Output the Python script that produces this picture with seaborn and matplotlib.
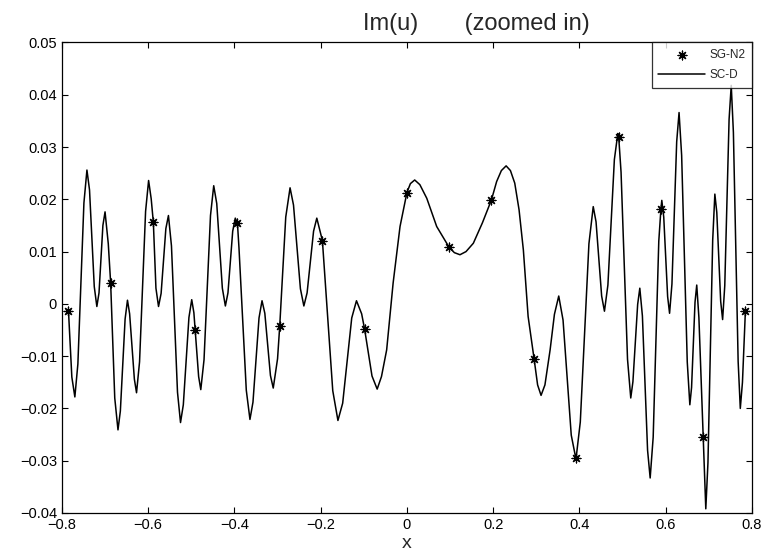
# Script name: im_u_zoomed
# Purpose: redraw the zoomed-in Im(u) plot (SG-N2 points on top of the SC-D curve)

# load packages
import pandas as pd
import seaborn as sns
import matplotlib.pyplot as plt

# SC-D curve (extrema plus points on the flanks)
curve_x = [-0.785, -0.777, -0.770, -0.763, -0.749, -0.742, -0.736, -0.725, -0.719, -0.714,
           -0.705, -0.700, -0.6925, -0.687, -0.6775, -0.670, -0.6645, -0.6535, -0.648, -0.643,
           -0.632, -0.627, -0.620, -0.606, -0.599, -0.593, -0.588, -0.582, -0.576, -0.570,
           -0.559, -0.553, -0.546, -0.532, -0.525, -0.5185, -0.5055, -0.499, -0.494, -0.491,
           -0.483, -0.478, -0.4705, -0.4555, -0.448, -0.441, -0.428, -0.421, -0.415, -0.404,
           -0.398, -0.393, -0.3895, -0.3725, -0.364, -0.357, -0.343, -0.336, -0.3295, -0.3165,
           -0.310, -0.300, -0.295, -0.281, -0.271, -0.263, -0.247, -0.239, -0.2315, -0.2165,
           -0.209, -0.196, -0.172, -0.160, -0.149, -0.128, -0.117, -0.105, -0.098, -0.081,
           -0.069, -0.059, -0.047, -0.032, -0.016, 0.000, 0.008, 0.018, 0.030, 0.046,
           0.069, 0.098, 0.110, 0.123, 0.137, 0.154, 0.175, 0.196, 0.208, 0.219,
           0.230, 0.240, 0.250, 0.260, 0.270, 0.281, 0.295, 0.303, 0.311, 0.320,
           0.332, 0.342, 0.352, 0.362, 0.381, 0.392, 0.402, 0.422, 0.432, 0.4385,
           0.4515, 0.458, 0.466, 0.481, 0.489, 0.491, 0.4965, 0.5115, 0.519, 0.524,
           0.535, 0.540, 0.546, 0.558, 0.564, 0.571, 0.584, 0.589, 0.591, 0.5955,
           0.6045, 0.609, 0.6145, 0.6255, 0.631, 0.637, 0.650, 0.656, 0.660, 0.668,
           0.672, 0.677, 0.687, 0.693, 0.698, 0.709, 0.714, 0.7185, 0.7275, 0.732,
           0.737, 0.747, 0.752, 0.757, 0.768, 0.773, 0.778, 0.785]
curve_y = [-0.0010, -0.0140, -0.0178, -0.0115, 0.0193, 0.0256, 0.0218, 0.0033, -0.0005, 0.0021,
           0.0150, 0.0176, 0.0115, 0.0040, -0.0180, -0.0241, -0.0205, -0.0029, 0.0007, -0.0019,
           -0.0144, -0.0170, -0.0111, 0.0177, 0.0236, 0.0201, 0.0156, 0.0030, -0.0005, 0.0020,
           0.0144, 0.0169, 0.0111, -0.0169, -0.0227, -0.0193, -0.0026, 0.0008, -0.0017, -0.0050,
           -0.0139, -0.0164, -0.0107, 0.0169, 0.0226, 0.0192, 0.0030, -0.0004, 0.0021, 0.0139,
           0.0164, 0.0154, 0.0108, -0.0165, -0.0221, -0.0188, -0.0027, 0.0006, -0.0018, -0.0137,
           -0.0161, -0.0105, -0.0043, 0.0166, 0.0222, 0.0189, 0.0029, -0.0004, 0.0021, 0.0139,
           0.0164, 0.0121, -0.0166, -0.0223, -0.0190, -0.0027, 0.0006, -0.0019, -0.0049, -0.0138,
           -0.0163, -0.0139, -0.0088, 0.0040, 0.0148, 0.0213, 0.0230, 0.0237, 0.0228, 0.0202,
           0.0148, 0.0108, 0.0098, 0.0094, 0.0100, 0.0116, 0.0155, 0.0199, 0.0234, 0.0255,
           0.0264, 0.0255, 0.0231, 0.0180, 0.0103, -0.0024, -0.0106, -0.0155, -0.0175, -0.0155,
           -0.0088, -0.0020, 0.0015, -0.0031, -0.0251, -0.0297, -0.0226, 0.0115, 0.0186, 0.0157,
           0.0015, -0.0014, 0.0036, 0.0276, 0.0326, 0.0320, 0.0252, -0.0106, -0.0180, -0.0149,
           -0.0001, 0.0030, -0.0023, -0.0280, -0.0333, -0.0255, 0.0120, 0.0182, 0.0198, 0.0166,
           0.0014, -0.0018, 0.0038, 0.0310, 0.0366, 0.0284, -0.0111, -0.0193, -0.0160, 0.0003,
           0.0036, -0.0026, -0.0255, -0.0392, -0.0304, 0.0122, 0.0210, 0.0175, 0.0005, -0.0030,
           0.0035, 0.0353, 0.0418, 0.0328, -0.0110, -0.0200, -0.0150, -0.0010]

# SG-N2 points
sg_x = [-0.785, -0.687, -0.589, -0.491, -0.393, -0.295, -0.196, -0.098, 0.000,
        0.098, 0.196, 0.295, 0.393, 0.491, 0.589, 0.687, 0.785]
sg_y = [-0.0013, 0.0040, 0.0156, -0.0050, 0.0154, -0.0043, 0.0121, -0.0049, 0.0213,
        0.0108, 0.0199, -0.0106, -0.0295, 0.0320, 0.0182, -0.0255, -0.0013]

# axis ticks
x_ticks = [-0.8, -0.6, -0.4, -0.2, 0, 0.2, 0.4, 0.6, 0.8]
x_labels = ["\u22120.8", "\u22120.6", "\u22120.4", "\u22120.2", "0", "0.2", "0.4", "0.6", "0.8"]
y_ticks = [-0.04, -0.03, -0.02, -0.01, 0, 0.01, 0.02, 0.03, 0.04, 0.05]
y_labels = ["\u22120.04", "\u22120.03", "\u22120.02", "\u22120.01", "0",
            "0.01", "0.02", "0.03", "0.04", "0.05"]

curve = pd.DataFrame({"x": curve_x, "y": curve_y})
points = pd.DataFrame({"x": sg_x, "y": sg_y})

sns.set_style("ticks")
plt.rcParams['font.family'] = ['Liberation Sans Narrow', 'Liberation Sans', 'DejaVu Sans']
plt.rcParams['xtick.direction'] = 'in'
plt.rcParams['ytick.direction'] = 'in'

fig = plt.figure(figsize=(7.74, 5.59), dpi=100)
ax = fig.add_axes([0.080, 0.0823, 0.8915, 0.8417])

# draw the points first so the legend order matches (SG-N2, SC-D)
sns.scatterplot(data=points, x="x", y="y", ax=ax, marker=(8, 2, 0), s=40,
                color="black", linewidth=0.9, label="SG-N2", zorder=3)
sns.lineplot(data=curve, x="x", y="y", ax=ax, color="black", linewidth=1.1,
             label="SC-D", sort=False, estimator=None, solid_joinstyle="round")

ax.set_xlim(-0.8, 0.8)
ax.set_ylim(-0.04, 0.05)
ax.set_xticks(x_ticks)
ax.set_xticklabels(x_labels)
ax.set_yticks(y_ticks)
ax.set_yticklabels(y_labels)
ax.tick_params(axis="both", labelsize=10.5, length=4, width=0.8, top=True, right=True,
               colors="black")
for side in ax.spines.values():
    side.set_color("black")
    side.set_linewidth(0.9)

ax.set_xlabel("x", fontsize=14, family=['Liberation Sans', 'DejaVu Sans'], labelpad=2)
ax.set_ylabel("")
ax.text(0.6, 1.039, "Im(u)       (zoomed in)", transform=ax.transAxes, ha="center",
        va="center", fontsize=17, family=['Liberation Sans', 'DejaVu Sans'])

leg = ax.legend(loc="upper right", borderaxespad=0, frameon=True, fancybox=False,
                prop={"family": ['Liberation Sans', 'DejaVu Sans'], "size": 8.5},
                handlelength=4.0, handletextpad=0.35, borderpad=0.55, labelspacing=0.7)
leg.get_frame().set_edgecolor("black")
leg.get_frame().set_linewidth(0.9)

plt.savefig("out.png", dpi=100)
plt.close()
